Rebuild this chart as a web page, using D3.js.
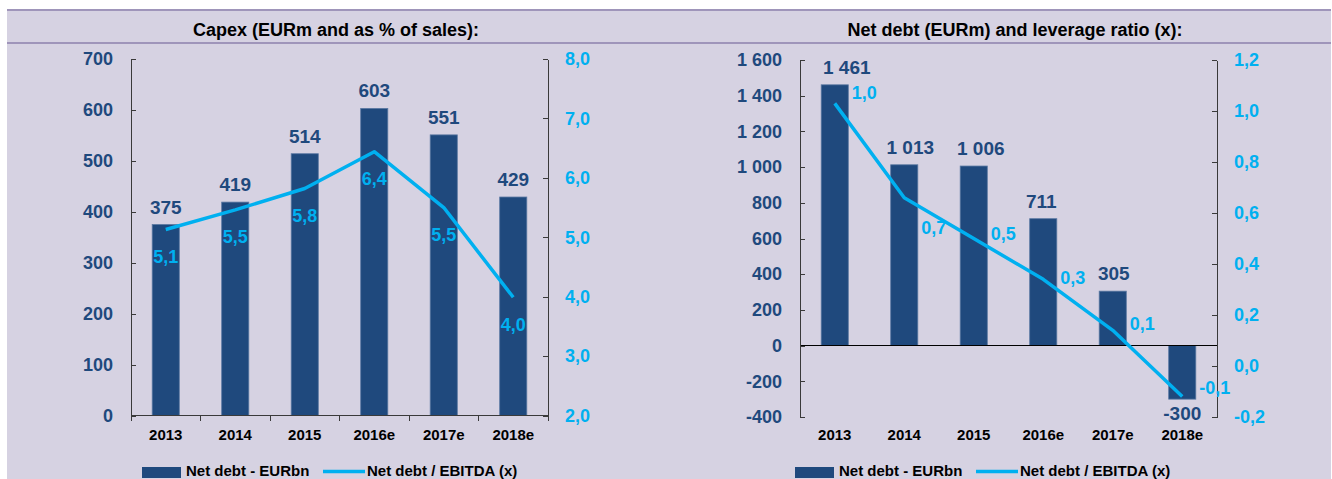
<!DOCTYPE html>
<meta charset="utf-8">
<style>
body { margin: 0; background: #fff; }
text { font-family: "Liberation Sans", Arial, sans-serif; font-weight: bold; }
.axis path, .axis line { fill: none; stroke: #3a3a3a; shape-rendering: crispEdges; }
.bar { fill: #1f497d; stroke: #5a78a2; stroke-width: 0.8px; }
.ratio { fill: none; stroke: #00b0f0; stroke-width: 3.5px; stroke-linejoin: round; }
</style>
<body>
<script src="https://cdn.jsdelivr.net/npm/d3@7"></script>
<script>

var years = ["2013", "2014", "2015", "2016e", "2017e", "2018e"];

// left panel
var capex = [375, 419, 514, 603, 551, 429];
var capexPct = [5.13, 5.46, 5.82, 6.44, 5.50, 3.99];
var capexTicks = [0, 100, 200, 300, 400, 500, 600, 700];
var pctTicks = [2, 3, 4, 5, 6, 7, 8];

// right panel
var netDebt = [1461, 1013, 1006, 711, 305, -300];
var leverage = [1.03, 0.66, 0.50, 0.34, 0.14, -0.12];
var debtTicks = [-400, -200, 0, 200, 400, 600, 800, 1000, 1200, 1400, 1600];
var levTicks = [-0.2, 0, 0.2, 0.4, 0.6, 0.8, 1.0, 1.2];

var legendLabels = ["Net debt - EURbn", "Net debt / EBITDA (x)"];

var loc = d3.formatLocale({decimal: ",", thousands: " ", grouping: [3], currency: ["", ""], minus: "-"});
var fmtInt = loc.format(",.0f"),
    fmt1 = loc.format(".1f");

var W = 1332, H = 479;
var svg = d3.select("body").append("svg").attr("width", W).attr("height", H);

// panel background + rules
svg.append("rect").attr("x", 7).attr("y", 10).attr("width", 1324).attr("height", H - 10).attr("fill", "#d6d2e2");
svg.append("rect").attr("x", 7).attr("y", 9).attr("width", 1324).attr("height", 2).attr("fill", "#9f95ba");
svg.append("rect").attr("x", 7).attr("y", 42).attr("width", 1324).attr("height", 2).attr("fill", "#9f95ba");

function panel(cfg) {
  var g = svg.append("g");

  g.append("text").attr("x", cfg.titleX).attr("y", 36).attr("text-anchor", "middle")
    .style("font-size", "18px").attr("fill", "#000").text(cfg.title);

  var x = d3.scaleBand().domain(years).range([cfg.x0, cfg.x1]).paddingInner(0.61).paddingOuter(0.305);
  var y = d3.scaleLinear().domain(cfg.yDomain).range([cfg.yBottom, cfg.yTop]);
  var y2 = d3.scaleLinear().domain(cfg.y2Domain).range([cfg.yBottom, cfg.yTop]);
  var cx = function(i) { return x(years[i]) + x.bandwidth() / 2; };

  // bars
  g.selectAll(".bar").data(cfg.bars).enter().append("rect")
    .attr("class", "bar")
    .attr("x", function(d, i) { return x(years[i]); })
    .attr("width", x.bandwidth())
    .attr("y", function(d) { return y(Math.max(0, d)); })
    .attr("height", function(d) { return Math.abs(y(d) - y(0)); });

  // zero / category axis
  if (cfg.zeroLine) {
    g.append("line").attr("x1", cfg.x0).attr("x2", cfg.x1).attr("y1", y(0)).attr("y2", y(0))
      .attr("stroke", "#000").attr("shape-rendering", "crispEdges");
  } else {
    var ax = g.append("g").attr("class", "axis");
    ax.append("line").attr("x1", cfg.x0).attr("x2", cfg.x1).attr("y1", y(0)).attr("y2", y(0));
    ax.selectAll(".bt").data(d3.range(years.length + 1)).enter().append("line")
      .attr("x1", function(i) { return cfg.x0 + i * x.step(); })
      .attr("x2", function(i) { return cfg.x0 + i * x.step(); })
      .attr("y1", y(0)).attr("y2", y(0) + 5);
  }

  var xa = g.append("g").attr("transform", "translate(0," + cfg.yBottom + ")")
    .call(d3.axisBottom(x).tickSize(0).tickPadding(cfg.xPad));
  xa.select(".domain").remove();
  xa.selectAll("text").style("font-size", "15px").style("font-family", null).attr("fill", "#000");

  // left axis
  var la = g.append("g").attr("class", "axis").attr("transform", "translate(" + cfg.x0 + ",0)")
    .call(d3.axisLeft(y).tickValues(cfg.yTicks).tickSize(-5).tickSizeOuter(0).tickPadding(18).tickFormat(fmtInt));
  la.selectAll("text").style("font-size", "18px").style("font-family", null).attr("fill", "#1f497d");

  // right axis
  var ra = g.append("g").attr("class", "axis").attr("transform", "translate(" + cfg.x1 + ",0)")
    .call(d3.axisRight(y2).tickValues(cfg.y2Ticks).tickSize(-5).tickSizeOuter(0).tickPadding(17).tickFormat(fmt1));
  ra.selectAll("text").style("font-size", "18px").style("font-family", null).attr("fill", "#00b0f0");

  // line
  var line = d3.line().x(function(d, i) { return cx(i); }).y(function(d) { return y2(d); });
  g.append("path").datum(cfg.line).attr("class", "ratio").attr("d", line);

  // bar labels
  g.selectAll(".blab").data(cfg.bars).enter().append("text")
    .attr("x", function(d, i) { return cx(i) + (cfg.barLabelDx ? cfg.barLabelDx[i] : 0); })
    .attr("y", function(d) { return d >= 0 ? y(d) - 11 : y(d) + 21; })
    .attr("text-anchor", "middle").style("font-size", "19px").attr("fill", "#1f497d")
    .text(function(d) { return fmtInt(d); });

  // line labels
  g.selectAll(".llab").data(cfg.line).enter().append("text")
    .attr("x", function(d, i) { return cx(i) + cfg.lineLabelDx; })
    .attr("y", function(d, i) { return y2(d) + cfg.lineLabelDy[i] + 6.5; })
    .attr("text-anchor", cfg.lineLabelAnchor).style("font-size", "18px").attr("fill", "#00b0f0")
    .text(function(d) { return fmt1(d); });

  // legend
  var lg = g.append("g");
  lg.append("rect").attr("x", cfg.legX).attr("y", 467).attr("width", 39).attr("height", 11).attr("fill", "#1f497d");
  lg.append("text").attr("x", cfg.legX + 44).attr("y", 476).style("font-size", "15px").attr("fill", "#000").text(legendLabels[0]);
  lg.append("line").attr("x1", cfg.legX2).attr("x2", cfg.legX2 + 42).attr("y1", 471.5).attr("y2", 471.5)
    .attr("stroke", "#00b0f0").attr("stroke-width", 3.5);
  lg.append("text").attr("x", cfg.legX2 + 44).attr("y", 476).style("font-size", "15px").attr("fill", "#000").text(legendLabels[1]);
}

panel({
  title: "Capex (EURm and as % of sales):", titleX: 336,
  x0: 131, x1: 548, yTop: 59, yBottom: 415.5,
  yDomain: [0, 700], y2Domain: [2, 8], yTicks: capexTicks, y2Ticks: pctTicks,
  bars: capex, line: capexPct, xPad: 14,
  lineLabelDx: 0, lineLabelAnchor: "middle", lineLabelDy: [27, 27, 27, 27, 27, 27],
  legX: 142, legX2: 323
});

panel({
  title: "Net debt (EURm) and leverage ratio (x):", titleX: 1015,
  x0: 800, x1: 1217, yTop: 60, yBottom: 417,
  yDomain: [-400, 1600], y2Domain: [-0.2, 1.2], yTicks: debtTicks, y2Ticks: levTicks,
  bars: netDebt, line: leverage, xPad: 12, zeroLine: true,
  barLabelDx: [12, 6, 7, -2, 1, 0],
  lineLabelDx: 17, lineLabelAnchor: "start", lineLabelDy: [-11, 30, -5, -2, -7, -9],
  legX: 795, legX2: 976
});

</script>
</body>
